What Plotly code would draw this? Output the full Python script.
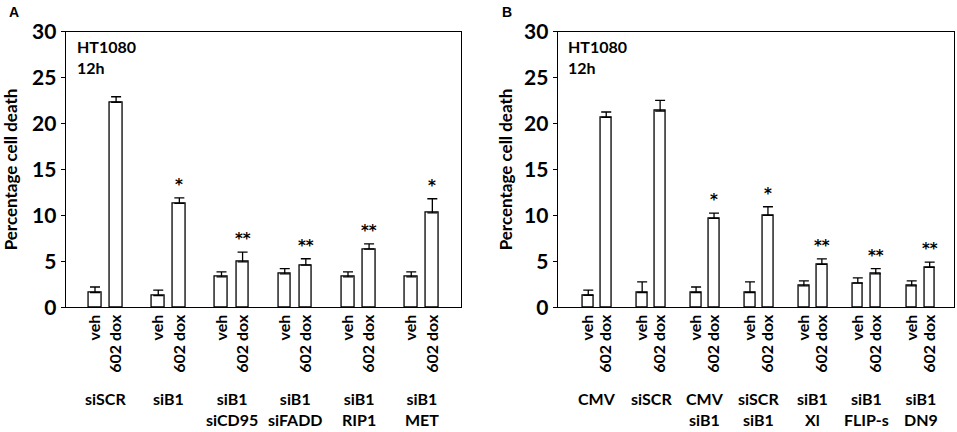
import plotly.graph_objects as go

# ---------------- data ----------------
groups_a = ["siSCR", "siB1", "siB1<br>siCD95", "siB1<br>siFADD", "siB1<br>RIP1", "siB1<br>MET"]
veh_a = [1.6, 1.27, 3.3, 3.63, 3.3, 3.3]
veh_a_err = [0.6, 0.58, 0.55, 0.57, 0.55, 0.55]
dox_a = [22.3, 11.3, 4.94, 4.58, 6.32, 10.27]
dox_a_err = [0.6, 0.6, 1.06, 0.69, 0.58, 1.53]
sig_a = ["", "*", "**", "**", "**", "*"]

groups_b = ["CMV", "siSCR", "CMV<br>siB1", "siSCR<br>siB1", "siB1<br>Xl", "siB1<br>FLIP-s", "siB1<br>DN9"]
veh_b = [1.3, 1.6, 1.6, 1.6, 2.32, 2.61, 2.32]
veh_b_err = [0.55, 1.16, 0.6, 1.16, 0.55, 0.59, 0.55]
dox_b = [20.66, 21.35, 9.66, 9.99, 4.65, 3.63, 4.33]
dox_b_err = [0.58, 1.15, 0.58, 0.94, 0.61, 0.57, 0.57]
sig_b = ["", "", "*", "*", "**", "**", "**"]

tick_pair = ["veh", "602 dox"]
y_ticks = [0, 5, 10, 15, 20, 25, 30]
y_title = "Percentage cell death"
cell_label = "HT1080<br>12h"

FONT = "Lato"
W, H = 957, 432

fig = go.Figure()

panels = [
    dict(groups=groups_a, veh=veh_a, veh_err=veh_a_err, dox=dox_a, dox_err=dox_a_err, sig=sig_a,
         xa="x", ya="y", xdom=[65.7 / W, 461 / W], xr=[-1.39, 17.36], letter="A",
         letter_x=7 / W, title_x=10 / W),
    dict(groups=groups_b, veh=veh_b, veh_err=veh_b_err, dox=dox_b, dox_err=dox_b_err, sig=sig_b,
         xa="x2", ya="y2", xdom=[557.7 / W, 954.3 / W], xr=[-1.70, 20.37], letter="B",
         letter_x=500 / W, title_x=505 / W),
]

ydom = [1 - 307.2 / H, 1 - 31.5 / H]
annotations = []

for i, p in enumerate(panels):
    n = len(p["groups"])
    xpos, yval, yerr = [], [], []
    for g in range(n):
        xpos += [3 * g, 3 * g + 1]
        yval += [p["veh"][g], p["dox"][g]]
        yerr += [p["veh_err"][g], p["dox_err"][g]]
    fig.add_trace(go.Bar(
        x=xpos, y=yval, xaxis=p["xa"], yaxis=p["ya"], width=0.6,
        marker=dict(color="white", line=dict(color="black", width=1.3)),
        error_y=dict(type="data", symmetric=False, array=yerr, arrayminus=[0] * len(yerr),
                     color="black", thickness=1.3, width=5),
        showlegend=False, hoverinfo="skip",
    ))
    suffix = "" if i == 0 else "2"
    fig.layout["xaxis" + suffix] = dict(
        domain=p["xdom"], range=p["xr"], anchor=p["ya"], automargin=False,
        tickmode="array", tickvals=xpos, ticktext=tick_pair * n, tickangle=-90,
        tickfont=dict(family=FONT, size=16, color="black", weight="bold"),
        ticks="", showline=True, linecolor="black", linewidth=1.3, mirror=True,
        showgrid=False, zeroline=False, fixedrange=True,
    )
    fig.layout["yaxis" + suffix] = dict(
        domain=ydom, range=[0, 30], anchor=p["xa"], automargin=False,
        tickmode="array", tickvals=y_ticks,
        tickfont=dict(family=FONT, size=21, color="black", weight="bold"),
        ticks="outside", ticklen=4, tickcolor="black", tickwidth=1,
        showline=True, linecolor="black", linewidth=1.3, mirror=True,
        showgrid=False, zeroline=False, fixedrange=True,
    )
    # group labels
    for g in range(n):
        annotations.append(dict(
            x=3 * g + 0.5, y=1 - 387 / H, xref=p["xa"], yref="paper",
            text=p["groups"][g], showarrow=False, yanchor="top", xanchor="center",
            font=dict(family=FONT, size=16, color="black", weight="bold"),
        ))
        if p["sig"][g]:
            annotations.append(dict(
                x=3 * g + 1, y=p["dox"][g] + p["dox_err"][g] + 0.2, xref=p["xa"], yref=p["ya"],
                text=p["sig"][g], showarrow=False, yanchor="bottom", xanchor="center",
                font=dict(family="DejaVu Sans", size=15, color="black", weight="bold"),
            ))
    # cell line label
    annotations.append(dict(
        x=p["xr"][0] + 0.45, y=29.6, xref=p["xa"], yref=p["ya"], text=cell_label,
        showarrow=False, xanchor="left", yanchor="top", align="left",
        font=dict(family=FONT, size=16, color="black", weight="bold"),
    ))
    # y title
    annotations.append(dict(
        x=p["title_x"], y=(ydom[0] + ydom[1]) / 2, xref="paper", yref="paper",
        text=y_title, textangle=-90, showarrow=False, xanchor="center", yanchor="middle",
        font=dict(family=FONT, size=17, color="black", weight="bold"),
    ))
    # panel letter
    annotations.append(dict(
        x=p["letter_x"], y=1 - 2 / H, xref="paper", yref="paper", text=p["letter"],
        showarrow=False, xanchor="left", yanchor="top",
        font=dict(family="Liberation Sans", size=14, color="black", weight="bold"),
    ))

fig.update_layout(
    width=W, height=H, margin=dict(l=0, r=0, t=0, b=0, autoexpand=False),
    paper_bgcolor="white", plot_bgcolor="white", template="none",
    annotations=annotations, bargap=0,
)

fig.write_html(
    "out.html",
    config={"displayModeBar": False},
    post_script="document.body.style.margin='0';document.body.style.overflow='hidden';",
)
